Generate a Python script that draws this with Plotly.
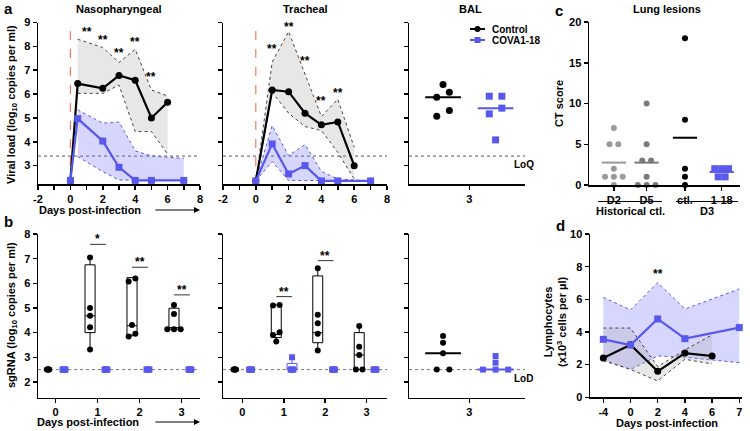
import numpy as np
import plotly.graph_objects as go

# ---------------- data ----------------
# panel a: viral load (log10 copies/ml), mean with SD band
np_days_ctl = [0, 0.45, 2, 3, 4, 5, 6]
np_ctl = [2.38, 6.44, 6.24, 6.78, 6.58, 5.0, 5.66]
np_ctl_hi = [None, 8.3, 7.95, 7.32, 7.88, 6.17, 5.92]
np_ctl_lo = [None, 6.03, 6.03, 6.38, 4.43, 4.43, 3.49]
np_days_cova = [0, 0.45, 2, 3, 4, 5, 7]
np_cova = [2.38, 4.97, 4.03, 2.93, 2.38, 2.38, 2.38]
np_cova_hi = [None, 5.34, 4.78, 4.83, 3.62, 3.41, 3.3]
np_cova_lo = [None, 3.38, 2.75, 2.4, 2.38, 2.38, 2.38]
np_star_days = [1, 2, 3, 4, 5]
np_star_y = [8.6, 8.25, 7.73, 8.17, 6.7]

tr_days_ctl = [0, 1, 2, 3, 4, 5, 6]
tr_ctl = [2.36, 6.17, 6.1, 5.2, 4.71, 4.83, 3.0]
tr_ctl_hi = [2.36, 7.34, 8.62, 6.85, 5.06, 5.78, 3.77]
tr_ctl_lo = [2.36, 6.08, 5.2, 4.64, 4.47, 3.56, 2.44]
tr_days_cova = [0, 1, 2, 3, 4, 5, 7]
tr_cova = [2.36, 3.91, 2.65, 3.0, 2.36, 2.36, 2.36]
tr_cova_hi = [2.36, 4.68, 3.42, 3.88, 2.76, 2.44, 2.36]
tr_cova_lo = [2.36, 3.17, 2.38, 2.38, 2.36, 2.36, 2.36]
tr_star_days = [1, 2, 3, 4, 5]
tr_star_y = [7.87, 8.82, 7.37, 5.7, 6.05]

a_ticks = [-2, 0, 2, 4, 6, 8]
a_ticklabels = ["-2", "0", "2", "4", "6", "8"]

bal_day = 3
bal_ctl = [6.4, 6.08, 5.87, 5.31, 5.07]
bal_cova = [5.91, 5.91, 5.41, 5.17, 4.08]
LOQ = 3.4

# panel b: sgRNA
b_days = [0, 1, 2, 3]
b_np_ctl = [[2.5] * 5, [7.05, 5.0, 4.68, 4.22, 3.32], [6.2, 6.07, 4.31, 3.95, 3.84], [5.12, 4.76, 4.14, 4.14, 4.14]]
b_np_cova = [[2.5] * 5, [2.5] * 5, [2.5] * 5, [2.5] * 5]
b_np_box_days = [1, 2, 3]
b_np_q1 = [4.0, 3.9, 4.14]
b_np_med = [4.68, 4.28, 4.2]
b_np_q3 = [6.75, 6.23, 4.99]
b_np_sig_days = [1, 2, 3]
b_np_sig_y = [7.58, 6.65, 5.53]
b_np_sig = ["*", "**", "**"]

b_tr_ctl = [[2.5] * 5, [5.12, 5.1, 4.01, 3.9, 3.64], [6.61, 4.72, 4.38, 3.95, 3.27], [4.27, 3.43, 3.09, 2.5, 2.5]]
b_tr_cova = [[2.5] * 5, [3.0, 2.5, 2.5, 2.5, 2.5], [2.5] * 5, [2.5] * 5]
b_tr_box_days = [1, 2, 3]
b_tr_q1 = [3.8, 3.59, 2.5]
b_tr_med = [3.92, 4.0, 3.09]
b_tr_q3 = [5.12, 6.3, 4.0]
b_tr_cova_box_day = [1]
b_tr_cova_q1 = [2.5]
b_tr_cova_med = [2.5]
b_tr_cova_q3 = [2.75]
b_tr_sig_days = [1, 2]
b_tr_sig_y = [5.46, 6.92]
b_tr_sig = ["**", "**"]

b_bal_ctl = [3.86, 3.59, 3.16, 2.5, 2.5]
b_bal_cova = [3.05, 2.78, 2.5, 2.5, 2.5]
LOD = 2.5

# panel c: CT score
c_cats = ["D2", "D5", "ctl.", "1-18"]
c_vals = [[7, 5, 5, 2, 1, 1, 1, 0], [10, 5, 3, 3, 1, 0, 0, 0], [18, 8, 2, 1, 0], [2, 2, 2, 1, 1]]
c_groups = ["Historical ctl.", "D3"]

# panel d: lymphocytes
d_ticks = ["-4", "0", "2", "4", "6", "7"]
d_days_ctl = ["-4", "0", "2", "4", "6"]
d_ctl = [2.41, 3.22, 1.59, 2.71, 2.53]
d_ctl_hi = [4.24, 4.24, 1.88, 2.9, 3.82]
d_ctl_lo = [2.24, 1.71, 1.0, 2.33, 2.04]
d_days_cova = ["-4", "0", "2", "4", "7"]
d_cova = [3.55, 3.2, 4.8, 3.59, 4.27]
d_cova_hi = [6.12, 5.35, 7.02, 5.41, 6.63]
d_cova_lo = [2.29, 1.71, 2.53, 2.45, 2.12]
d_star_day = "2"
d_star_y = 7.55

# ---------------- style ----------------
W, H = 750, 431
FONT = "Liberation Sans"
BLACK = "#000000"
BLUE = "#5858EC"
BLUE_FILL = "rgba(120,120,255,0.30)"
GRAY_FILL = "rgba(175,175,175,0.30)"
RED = "#F47A62"


def px(x):
    return x / W


def py(y):
    return 1 - y / H


def fnt(size=11, color=BLACK):
    return dict(family=FONT, size=size, color=color, weight="bold")


fig = go.Figure()
layout = {}
axis_common = dict(showline=True, linecolor=BLACK, linewidth=1.5, ticks="outside", ticklen=4,
                   tickwidth=1.5, tickcolor=BLACK, showgrid=False, zeroline=False, automargin=False,
                   tickfont=fnt(11), fixedrange=True)


def axname(n, kind):
    return kind + ("" if n == 1 else str(n))


def set_axes(n, xdom, ydom, xr, yr, xkw=None, ykw=None):
    xa = dict(axis_common, domain=[px(xdom[0]), px(xdom[1])], range=xr, anchor=axname(n, "y"))
    ya = dict(axis_common, domain=[py(ydom[1]), py(ydom[0])], range=yr, anchor=axname(n, "x"))
    xa.update(xkw or {})
    ya.update(ykw or {})
    layout[axname(n, "xaxis")] = xa
    layout[axname(n, "yaxis")] = ya


def ref(n):
    return dict(xaxis=axname(n, "x"), yaxis=axname(n, "y"))


def swarm(vals, center, tol, sp, crowd=None):
    n = len(vals)
    order = sorted(range(n), key=lambda i: vals[i])
    bins, cur = [], [order[0]]
    for i in order[1:]:
        if vals[i] - vals[cur[-1]] <= tol:
            cur.append(i)
        else:
            bins.append(cur)
            cur = [i]
    bins.append(cur)
    xs = [0.0] * n
    for b in bins:
        k = len(b)
        step = sp if (crowd is None or k < 4) else crowd / (k - 1)
        for j, i in enumerate(b):
            xs[i] = center + (j - (k - 1) / 2) * step
    return xs


def band(n, xs, lo, hi, edge, fill):
    keep = [i for i in range(len(xs)) if hi[i] is not None]
    xs = [xs[i] for i in keep]
    hi = [hi[i] for i in keep]
    lo = [lo[i] for i in keep]
    fig.add_trace(go.Scatter(x=xs, y=hi, mode="lines", line=dict(color=edge, width=1, dash="dot"),
                             hoverinfo="skip", showlegend=False, **ref(n)))
    fig.add_trace(go.Scatter(x=xs, y=lo, mode="lines", line=dict(color=edge, width=1, dash="dot"),
                             fill="tonexty", fillcolor=fill, hoverinfo="skip", showlegend=False, **ref(n)))


def line(n, xs, ys, color, symbol, size=7, width=2.2):
    fig.add_trace(go.Scatter(x=xs, y=ys, mode="lines+markers", line=dict(color=color, width=width),
                             marker=dict(color=color, symbol=symbol, size=size), cliponaxis=False,
                             hoverinfo="skip", showlegend=False, **ref(n)))


def pts(n, xs, ys, color, symbol, size=6):
    fig.add_trace(go.Scatter(x=xs, y=ys, mode="markers", marker=dict(color=color, symbol=symbol, size=size),
                             cliponaxis=False, hoverinfo="skip", showlegend=False, **ref(n)))


def seg(n, x0, x1, y, color, width=2):
    fig.add_trace(go.Scatter(x=[x0, x1], y=[y, y], mode="lines", line=dict(color=color, width=width),
                             cliponaxis=False, hoverinfo="skip", showlegend=False, **ref(n)))


shapes = []
annotations = []


def hline(n, y, color="#555555"):
    shapes.append(dict(type="line", xref=axname(n, "x") + " domain", x0=0, x1=1, yref=axname(n, "y"),
                       y0=y, y1=y, line=dict(color=color, width=1, dash="dot"), layer="below"))


def txt(x, y, s, size=11, xanchor="center", yanchor="middle", angle=0, color=BLACK):
    annotations.append(dict(x=px(x), y=py(y), xref="paper", yref="paper", text=s, showarrow=False,
                            font=fnt(size, color), xanchor=xanchor, yanchor=yanchor, textangle=angle))


# ---------------- axes ----------------
A_Y = (22.5, 184)
B_Y = (234, 397.7)
a_xkw = dict(tickvals=a_ticks, ticktext=a_ticklabels,
             minor=dict(dtick=1, ticks="outside", ticklen=4, tickwidth=1.5, tickcolor=BLACK))
a_ykw = dict(tickvals=[3, 4, 5, 6, 7, 8, 9])
set_axes(1, (38, 200), A_Y, [-2, 8], [2.23, 9], a_xkw, a_ykw)
set_axes(2, (223, 387), A_Y, [-2, 8], [2.23, 9], a_xkw, dict(a_ykw, showticklabels=False))
set_axes(3, (409, 525), A_Y, [2.426, 3.53], [2.23, 9], dict(tickvals=[3]), dict(a_ykw, showticklabels=False))
c_pos = [0, 1, 2.17, 3.29]
set_axes(4, (589, 740), (22, 185), [-0.76, 3.85], [0, 20], dict(tickvals=c_pos, ticktext=c_cats),
         dict(tickvals=[0, 5, 10, 15, 20]))
b_ykw = dict(tickvals=[2, 3, 4, 5, 6, 7, 8])
set_axes(5, (38, 200), B_Y, [-0.42, 3.44], [1.36, 8], dict(tickvals=b_days), b_ykw)
set_axes(6, (223, 387), B_Y, [-0.465, 3.49], [1.36, 8], dict(tickvals=b_days), dict(b_ykw, showticklabels=False))
set_axes(7, (409, 525), B_Y, [2.426, 3.53], [1.36, 8], dict(tickvals=[3]), dict(b_ykw, showticklabels=False))
d_pos = {d: i for i, d in enumerate(d_ticks)}
set_axes(8, (590, 742), (234, 397.3), [-0.49, 5.1], [0, 10],
         dict(tickvals=list(range(len(d_ticks))), ticktext=d_ticks), dict(tickvals=[0, 2, 4, 6, 8, 10]))

# ---------------- panel a ----------------
for n, (dc, c, chi, clo, dv, v, vhi, vlo, sd, sy) in {
    1: (np_days_ctl, np_ctl, np_ctl_hi, np_ctl_lo, np_days_cova, np_cova, np_cova_hi, np_cova_lo, np_star_days, np_star_y),
    2: (tr_days_ctl, tr_ctl, tr_ctl_hi, tr_ctl_lo, tr_days_cova, tr_cova, tr_cova_hi, tr_cova_lo, tr_star_days, tr_star_y),
}.items():
    hline(n, LOQ)
    shapes.append(dict(type="line", xref=axname(n, "x"), x0=0, x1=0, yref=axname(n, "y") + " domain", y0=0, y1=1,
                       line=dict(color=RED, width=1.2, dash="dash"), layer="below"))
    band(n, dv, vlo, vhi, BLUE, BLUE_FILL)
    band(n, dc, clo, chi, "#444444", GRAY_FILL)
    line(n, dc, c, BLACK, "circle")
    line(n, dv, v, BLUE, "square")
    for d, y in zip(sd, sy):
        annotations.append(dict(x=d, y=y, xref=axname(n, "x"), yref=axname(n, "y"), text="**",
                                showarrow=False, font=fnt(12)))

# BAL a
hline(3, LOQ)
pts(3, swarm(bal_ctl, bal_day - 0.25, 0.25, 0.12), bal_ctl, BLACK, "circle", 7)
pts(3, swarm(bal_cova, bal_day + 0.25, 0.25, 0.12), bal_cova, BLUE, "square", 7)
seg(3, bal_day - 0.25 - 0.17, bal_day - 0.25 + 0.17, float(np.median(bal_ctl)), BLACK)
seg(3, bal_day + 0.25 - 0.17, bal_day + 0.25 + 0.17, float(np.median(bal_cova)), BLUE)
txt(512, 164, "LoQ", 10, xanchor="left")

# legend (BAL a)
for yy, col, sym, lab in [(29, BLACK, "circle", "Control"), (40, BLUE, "square", "COVA1-18")]:
    shapes.append(dict(type="line", xref="paper", yref="paper", x0=px(470), x1=px(485), y0=py(yy), y1=py(yy),
                       line=dict(color=col, width=2)))
    if sym == "circle":
        shapes.append(dict(type="circle", xref="paper", yref="paper", x0=px(474.5), x1=px(480.5),
                           y0=py(yy + 3), y1=py(yy - 3), fillcolor=col, line=dict(color=col, width=0)))
    else:
        shapes.append(dict(type="rect", xref="paper", yref="paper", x0=px(474.5), x1=px(480.5),
                           y0=py(yy + 3), y1=py(yy - 3), fillcolor=col, line=dict(color=col, width=0)))
    txt(490, yy, lab, 10, xanchor="left")

# ---------------- panel b ----------------
for n, ctl, cova, bd, q1, med, q3, sd, sy, ss in [
    (5, b_np_ctl, b_np_cova, b_np_box_days, b_np_q1, b_np_med, b_np_q3, b_np_sig_days, b_np_sig_y, b_np_sig),
    (6, b_tr_ctl, b_tr_cova, b_tr_box_days, b_tr_q1, b_tr_med, b_tr_q3, b_tr_sig_days, b_tr_sig_y, b_tr_sig),
]:
    hline(n, LOD, "#777777")
    lo = [min(ctl[b_days.index(d)]) for d in bd]
    hi = [max(ctl[b_days.index(d)]) for d in bd]
    fig.add_trace(go.Box(x=[d - 0.18 for d in bd], q1=q1, median=med, q3=q3, lowerfence=lo, upperfence=hi,
                         width=0.24, whiskerwidth=0, boxpoints=False, line=dict(color=BLACK, width=1),
                         fillcolor="rgba(255,255,255,0)", hoverinfo="skip", showlegend=False, **ref(n)))
    if n == 6:
        blo = [min(cova[b_days.index(d)]) for d in b_tr_cova_box_day]
        bhi = [max(cova[b_days.index(d)]) for d in b_tr_cova_box_day]
        fig.add_trace(go.Box(x=[d + 0.2 for d in b_tr_cova_box_day], q1=b_tr_cova_q1, median=b_tr_cova_med,
                             q3=b_tr_cova_q3, lowerfence=blo, upperfence=bhi, width=0.24, whiskerwidth=0,
                             boxpoints=False, line=dict(color=BLUE, width=1), fillcolor="rgba(255,255,255,0)",
                             hoverinfo="skip", showlegend=False, **ref(n)))
    for d, vals in zip(b_days, ctl):
        pts(n, swarm(vals, d - 0.18, 0.15, 0.16, 0.06), vals, BLACK, "circle", 6)
    for d, vals in zip(b_days, cova):
        pts(n, swarm(vals, d + 0.2, 0.15, 0.16, 0.07), vals, BLUE, "square", 6)
    for d, y, s in zip(sd, sy, ss):
        seg(n, d - 0.18, d + 0.2, y, "#333333", 1)
        annotations.append(dict(x=d, y=y, xref=axname(n, "x"), yref=axname(n, "y"), text=s, showarrow=False,
                                font=fnt(12), yanchor="bottom", yshift=-4))

# BAL b
hline(7, LOD, "#777777")
pts(7, swarm(b_bal_ctl, bal_day - 0.25, 0.2, 0.12), b_bal_ctl, BLACK, "circle", 6)
pts(7, swarm(b_bal_cova, bal_day + 0.25, 0.2, 0.12), b_bal_cova, BLUE, "square", 6)
seg(7, bal_day - 0.25 - 0.17, bal_day - 0.25 + 0.17, float(np.median(b_bal_ctl)), BLACK)
seg(7, bal_day + 0.25 - 0.17, bal_day + 0.25 + 0.17, float(np.median(b_bal_cova)), BLUE)
txt(512, 378, "LoD", 10, xanchor="left")

# ---------------- panel c ----------------
c_colors = ["#9A9A9A", "#7A7A7A", BLACK, BLUE]
c_symbols = ["circle", "circle", "circle", "square"]
for pos, vals, col, sym in zip(c_pos, c_vals, c_colors, c_symbols):
    sp = 0.21 if sym == "square" else 0.27
    pts(4, swarm(vals, pos, 0.01, sp), vals, col, sym, 6 if sym == "circle" else 7)
    seg(4, pos - 0.37, pos + 0.37, float(np.mean(vals)), col, 2)
shapes.append(dict(type="line", xref="paper", yref="paper", x0=px(598), x1=px(662), y0=py(201.5), y1=py(201.5),
                   line=dict(color=BLACK, width=1.2)))
shapes.append(dict(type="line", xref="paper", yref="paper", x0=px(676), x1=px(738), y0=py(201.5), y1=py(201.5),
                   line=dict(color=BLACK, width=1.2)))
txt(630, 211, c_groups[0], 11)
txt(707, 211, c_groups[1], 11)

# ---------------- panel d ----------------
dcx = [d_pos[d] for d in d_days_ctl]
dvx = [d_pos[d] for d in d_days_cova]
band(8, dvx, d_cova_lo, d_cova_hi, BLUE, BLUE_FILL)
band(8, dcx, d_ctl_lo, d_ctl_hi, "#444444", GRAY_FILL)
line(8, dcx, d_ctl, BLACK, "circle")
line(8, dvx, d_cova, BLUE, "square")
annotations.append(dict(x=d_pos[d_star_day], y=d_star_y, xref="x8", yref="y8", text="**", showarrow=False,
                        font=fnt(12)))

# ---------------- texts ----------------
txt(8, 9, "a", 15)
txt(8, 222, "b", 15)
txt(559, 10, "c", 15)
txt(560, 225, "d", 15)
txt(119, 9, "Nasopharyngeal", 11)
txt(305, 9, "Tracheal", 11)
txt(470, 9, "BAL", 11)
txt(667, 9, "Lung lesions", 11)
txt(12, 105, "Viral load (log<sub>10</sub> copies per ml)", 11, angle=-90)
txt(12, 315, "sgRNA (log<sub>10</sub> copies per ml)", 11, angle=-90)
txt(559, 104, "CT score", 11, angle=-90)
txt(555, 322, "Lymphocytes<br>(x10<sup>3</sup> cells per µl)", 11, angle=-90)
txt(90, 210, "Days post-infection", 11)
txt(88, 422, "Days post-infection", 11)
txt(667, 423, "Days post-infection", 11)
for yy in (210, 422):
    annotations.append(dict(x=px(200), y=py(yy), xref="paper", yref="paper", ax=-46, ay=0, text="",
                            showarrow=True, arrowhead=2, arrowsize=1, arrowwidth=1.2, arrowcolor=BLACK))

fig.update_layout(template="none", width=W, height=H, margin=dict(l=0, r=0, t=0, b=0), paper_bgcolor="white",
                  plot_bgcolor="rgba(0,0,0,0)", showlegend=False, shapes=shapes, annotations=annotations,
                  font=dict(family=FONT, color=BLACK), hovermode=False, **layout)
fig.write_html("out.html", config={"displayModeBar": False, "staticPlot": True},
               post_script="document.body.style.margin='0px';document.body.style.padding='0px';")
